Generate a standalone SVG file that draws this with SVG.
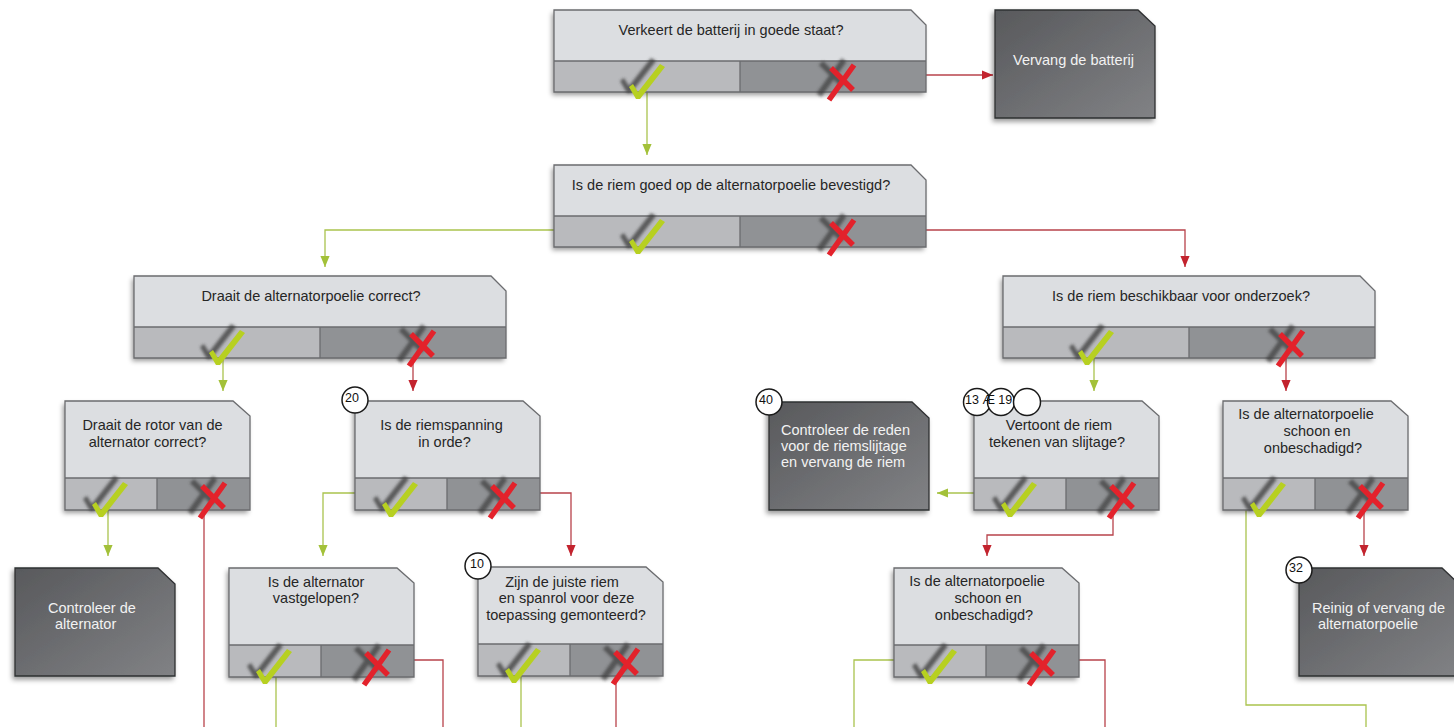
<svg xmlns="http://www.w3.org/2000/svg" xmlns:xlink="http://www.w3.org/1999/xlink" width="1454" height="727" viewBox="0 0 1454 727">
<style>
.t{font-family:"Liberation Sans",Arial,sans-serif;font-size:14.5px;fill:#262626}
.tm{text-anchor:middle}
.tw{font-family:"Liberation Sans",Arial,sans-serif;font-size:14.5px;fill:#f2f2f2}
.num{font-family:"Liberation Sans",Arial,sans-serif;font-size:12.5px;fill:#111;text-anchor:middle}
.circ{fill:#fff;stroke:#1a1a1a;stroke-width:1.5}
.g{fill:none;stroke:#aac34e;stroke-width:1.3}
.r{fill:none;stroke:#b8434b;stroke-width:1.3}
.body{fill:#dcdee1}
.segL{fill:#b9babd}
.segR{fill:#909295}
.ol{fill:none;stroke:#6b6c6f;stroke-width:1.3}
.term{fill:url(#tg);stroke:#2f3032;stroke-width:1.3}
.chkf{fill:#b7d021}
.chks{fill:#3a3a3a;opacity:.75}
.xs{fill:none;stroke:#e3222b;stroke-width:5.5}
.xsh{fill:none;stroke:#3a3a3a;stroke-width:6;opacity:.7}
</style>
<defs>
<linearGradient id="tg" x1="0" y1="0" x2="1" y2="1">
<stop offset="0" stop-color="#58595c"/>
<stop offset="1" stop-color="#818285"/>
</linearGradient>
<filter id="sh" x="-10%" y="-10%" width="125%" height="135%">
<feDropShadow dx="-2" dy="3" stdDeviation="2.5" flood-color="#000" flood-opacity="0.4"/>
</filter>
<filter id="bl" x="-50%" y="-50%" width="200%" height="200%">
<feGaussianBlur stdDeviation="1.8"/>
</filter>
<marker id="ag" viewBox="0 0 12 10" refX="12" refY="5" markerWidth="11" markerHeight="10" markerUnits="userSpaceOnUse" orient="auto">
<path d="M0,0 L12,5 L0,10 Z" fill="#a3c139"/>
</marker>
<marker id="ar" viewBox="0 0 12 10" refX="12" refY="5" markerWidth="11" markerHeight="10" markerUnits="userSpaceOnUse" orient="auto">
<path d="M0,0 L12,5 L0,10 Z" fill="#c3232e"/>
</marker>
<g id="chk">
<path class="chks" filter="url(#bl)" transform="translate(-9,-6)" d="M-9,-11 L-5,-14 L0,-6 L22,-34 L27,-31 L2,1 L-2,1 Z"/>
<path class="chkf" d="M-9,-11 L-5,-14 L0,-6 L22,-34 L27,-31 L2,1 L-2,1 Z"/>
</g>
<g id="crs">
<path class="xsh" filter="url(#bl)" transform="translate(-10,-5)" d="M13,-16 L-12,19 M-10,-13 L12,9"/>
<path class="xs" d="M13,-16 L-12,19 M-10,-13 L12,9"/>
</g>
<g id="bigBox">
<path class="body" filter="url(#sh)" d="M0,0 H357 L372,15 V82 H0 Z"/>
<rect class="segL" x="0" y="51" width="186" height="31"/>
<rect class="segR" x="186" y="51" width="186" height="31"/>
<path class="ol" d="M0,0 H357 L372,15 V82 H0 Z M0,51 H372 M186,51 V82"/>
<use xlink:href="#chk" href="#chk" transform="translate(84,88)"/>
<use xlink:href="#crs" href="#crs" transform="translate(287,71)"/>
</g>
<g id="smallBox">
<path class="body" filter="url(#sh)" d="M0,0 H168 L185,15 V109 H0 Z"/>
<rect class="segL" x="0" y="77" width="92" height="32"/>
<rect class="segR" x="92" y="77" width="93" height="32"/>
<path class="ol" d="M0,0 H168 L185,15 V109 H0 Z M0,77 H185 M92,77 V109"/>
<use xlink:href="#chk" href="#chk" transform="translate(36,115)"/>
<use xlink:href="#crs" href="#crs" transform="translate(147,98)"/>
</g>
<g id="termBox">
<path class="term" filter="url(#sh)" d="M0,0 H143 L160,16 V108 H0 Z"/>
</g>
</defs>

<g id="connectors">
<path class="g" d="M647,92 V155" marker-end="url(#ag)"/>
<path class="r" d="M926,75 H993" marker-end="url(#ar)"/>
<path class="g" d="M554,230 H325 V267" marker-end="url(#ag)"/>
<path class="r" d="M926,230 H1185 V267" marker-end="url(#ar)"/>
<path class="g" d="M223,357 V391" marker-end="url(#ag)"/>
<path class="r" d="M413,357 V391" marker-end="url(#ar)"/>
<path class="g" d="M1094,357 V391" marker-end="url(#ag)"/>
<path class="r" d="M1286,357 V391" marker-end="url(#ar)"/>
<path class="g" d="M108,510 V556" marker-end="url(#ag)"/>
<path class="r" d="M204,510 V727"/>
<path class="g" d="M355,493 H323 V556" marker-end="url(#ag)"/>
<path class="r" d="M539,493 H571 V556" marker-end="url(#ar)"/>
<path class="g" d="M974,493 H937" marker-end="url(#ag)"/>
<path class="r" d="M1113,510 V535 H987 V556" marker-end="url(#ar)"/>
<path class="r" d="M1364,510 V556" marker-end="url(#ar)"/>
<path class="g" d="M1246,510 V705 H1366 V727"/>
<path class="g" d="M276,677 V727"/>
<path class="r" d="M413,660 H443 V727"/>
<path class="g" d="M521,677 V727"/>
<path class="r" d="M616,677 V727"/>
<path class="g" d="M894,660 H854 V727"/>
<path class="r" d="M1079,660 H1105 V727"/>
</g>

<g id="n-batterij" transform="translate(554,10)">
<use xlink:href="#bigBox" href="#bigBox"/>
<text class="t tm" x="177" y="25">Verkeert de batterij in goede staat?</text>
</g>
<g id="n-vervang" transform="translate(995,10)">
<use xlink:href="#termBox" href="#termBox"/>
<text class="tw" text-anchor="middle" x="78.5" y="55">Vervang de batterij</text>
</g>
<g id="n-riem" transform="translate(554,165)">
<use xlink:href="#bigBox" href="#bigBox"/>
<text class="t tm" x="177" y="25">Is de riem goed op de alternatorpoelie bevestigd?</text>
</g>
<g id="n-draait" transform="translate(134,276)">
<use xlink:href="#bigBox" href="#bigBox"/>
<text class="t tm" x="177" y="25">Draait de alternatorpoelie correct?</text>
</g>
<g id="n-beschikbaar" transform="translate(1003,276)">
<use xlink:href="#bigBox" href="#bigBox"/>
<text class="t tm" x="178" y="25">Is de riem beschikbaar voor onderzoek?</text>
</g>
<g id="n-rotor" transform="translate(65,401)">
<use xlink:href="#smallBox" href="#smallBox"/>
<text class="t tm" x="87.5" y="29">Draait de rotor van de</text>
<text class="t tm" x="82.5" y="46">alternator correct?</text>
</g>
<g id="n-riemspanning" transform="translate(355,401)">
<use xlink:href="#smallBox" href="#smallBox"/>
<text class="t tm" x="86.5" y="29">Is de riemspanning</text>
<text class="t tm" x="89.5" y="46">in orde?</text>
<circle class="circ" cx="0" cy="-1" r="13"/>
<text class="num" x="-3" y="1">20</text>
</g>
<g id="n-reden" transform="translate(769,402)">
<use xlink:href="#termBox" href="#termBox"/>
<text class="tw" x="12" y="33">Controleer de reden</text>
<text class="tw" x="12" y="49">voor de riemslijtage</text>
<text class="tw" x="12" y="65">en vervang de riem</text>
<circle class="circ" cx="0" cy="0" r="13"/>
<text class="num" x="-3" y="2">40</text>
</g>
<g id="n-vertoont" transform="translate(974,401)">
<use xlink:href="#smallBox" href="#smallBox"/>
<text class="t tm" x="85" y="29">Vertoont de riem</text>
<text class="t tm" x="83" y="46">tekenen van slijtage?</text>
<circle class="circ" cx="3" cy="1" r="13.5"/>
<circle class="circ" cx="27" cy="1" r="13.5"/>
<circle class="circ" cx="53" cy="1" r="13.5"/>
<text class="num" text-anchor="start" style="text-anchor:start" x="-9" y="3">13 Æ 19</text>
</g>
<g id="n-alt-right" transform="translate(1223,401)">
<use xlink:href="#smallBox" href="#smallBox"/>
<text class="t tm" x="83" y="18">Is de alternatorpoelie</text>
<text class="t tm" x="94" y="35">schoon en</text>
<text class="t tm" x="90" y="52">onbeschadigd?</text>
</g>
<g id="n-ctrl-alt" transform="translate(15,568)">
<use xlink:href="#termBox" href="#termBox"/>
<text class="tw" x="33" y="45">Controleer de</text>
<text class="tw" x="40" y="61">alternator</text>
</g>
<g id="n-vastgelopen" transform="translate(229,568)">
<use xlink:href="#smallBox" href="#smallBox"/>
<text class="t tm" x="87" y="19">Is de alternator</text>
<text class="t tm" x="87" y="35">vastgelopen?</text>
</g>
<g id="n-zijn" transform="translate(478,567)">
<use xlink:href="#smallBox" href="#smallBox"/>
<text class="t tm" x="84" y="20">Zijn de juiste riem</text>
<text class="t tm" x="88.5" y="36">en spanrol voor deze</text>
<text class="t tm" x="88" y="53">toepassing gemonteerd?</text>
<circle class="circ" cx="0" cy="-1" r="13"/>
<text class="num" x="-1" y="1">10</text>
</g>
<g id="n-alt-mid" transform="translate(894,568)">
<use xlink:href="#smallBox" href="#smallBox"/>
<text class="t tm" x="83" y="18">Is de alternatorpoelie</text>
<text class="t tm" x="94" y="35">schoon en</text>
<text class="t tm" x="90" y="52">onbeschadigd?</text>
</g>
<g id="n-reinig" transform="translate(1299,568)">
<use xlink:href="#termBox" href="#termBox"/>
<text class="tw" x="13" y="45">Reinig of vervang de</text>
<text class="tw" x="19" y="61">alternatorpoelie</text>
<circle class="circ" cx="0" cy="2" r="13"/>
<text class="num" x="-3" y="4">32</text>
</g>
</svg>
